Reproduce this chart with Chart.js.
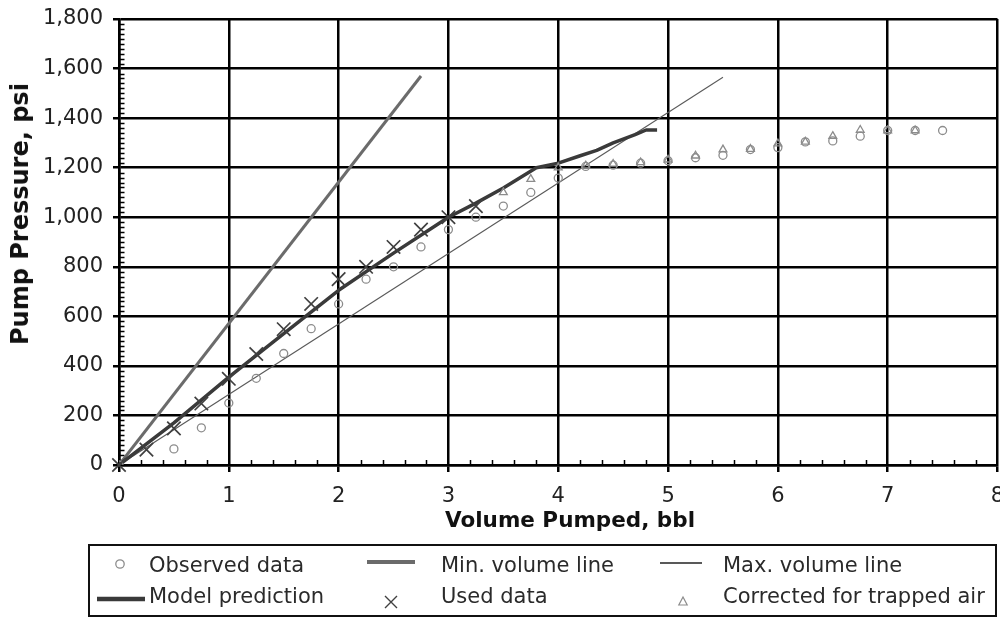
<!DOCTYPE html>
<html>
<head>
<meta charset="utf-8">
<script src="https://cdn.jsdelivr.net/npm/chart.js@4/dist/chart.umd.min.js"></script>
<style>
  html, body { margin: 0; padding: 0; background: #fff; }
  #wrap { position: relative; width: 1000px; height: 618px; overflow: hidden; font-family: "DejaVu Sans", sans-serif; }
  #c { position: absolute; left: 0; top: 0; display: block; }
  .ttl { position: absolute; font-weight: bold; color: #111; white-space: nowrap; line-height: 1; }
  #ytitle { left: 20px; top: 214px; font-size: 24px; transform: translate(-50%, -50%) rotate(-90deg); }
  #xtitle { left: 570px; top: 520px; font-size: 21.5px; transform: translate(-50%, -50%); }
  #legend { position: absolute; left: 88px; top: 544px; width: 909px; height: 73px; box-sizing: border-box; border: 2px solid #111; }
  .lt { position: absolute; font-size: 21px; line-height: 21px; color: #2a2a2a; white-space: nowrap; }
  #lsym { position: absolute; left: 0; top: 0; }
</style>
</head>
<body>
<div id="wrap">
  <canvas id="c" width="1000" height="618"></canvas>
  <div id="ytitle" class="ttl">Pump Pressure, psi</div>
  <div id="xtitle" class="ttl">Volume Pumped, bbl</div>
  <div id="legend"></div>
  <svg id="lsym" width="1000" height="618"></svg>
</div>
<script>
// ---------- data ----------
const xTickValues = [0, 1, 2, 3, 4, 5, 6, 7, 8];
const yTickValues = [0, 200, 400, 600, 800, 1000, 1200, 1400, 1600, 1800];

const observedX = [0, 0.5, 0.75, 1, 1.25, 1.5, 1.75, 2, 2.25, 2.5, 2.75, 3, 3.25, 3.5, 3.75, 4, 4.25, 4.5, 4.75, 5, 5.25, 5.5, 5.75, 6, 6.25, 6.5, 6.75, 7, 7.25, 7.5];
const observedY = [0, 65, 150, 250, 350, 450, 550, 650, 750, 800, 880, 950, 1000, 1045, 1100, 1158, 1205, 1210, 1218, 1228, 1240, 1250, 1273, 1281, 1304, 1308, 1327, 1350, 1350, 1350];

const usedX = [0, 0.25, 0.5, 0.75, 1, 1.25, 1.5, 1.75, 2, 2.25, 2.5, 2.75, 3, 3.25];
const usedY = [0, 62, 148, 248, 348, 448, 548, 650, 750, 800, 880, 950, 1000, 1045];

const correctedX = [3.5, 3.75, 4, 4.25, 4.5, 4.75, 5, 5.25, 5.5, 5.75, 6, 6.25, 6.5, 6.75, 7, 7.25];
const correctedY = [1100, 1154, 1200, 1208, 1215, 1221, 1232, 1248, 1273, 1275, 1297, 1304, 1327, 1352, 1350, 1350];

const modelX = [0, 0.5, 1, 1.5, 2, 2.5, 3, 3.25, 3.5, 3.8, 4, 4.2, 4.35, 4.5, 4.7, 4.8, 4.9];
const modelY = [0, 170, 355, 530, 705, 855, 1000, 1057, 1118, 1200, 1218, 1248, 1270, 1300, 1333, 1352, 1352];

const minVolX = [0, 2.75];
const minVolY = [0, 1570];
const maxVolX = [0, 5.5];
const maxVolY = [0, 1565];

const legendLabels = ["Observed data", "Min. volume line", "Max. volume line", "Model prediction", "Used data", "Corrected for trapped air"];

// ---------- helpers ----------
const pts = (xs, ys) => xs.map((x, i) => ({ x: x, y: ys[i] }));
const tickFont = { family: "DejaVu Sans", size: 21 };
const zeroPad = () => ({ left: 0, top: 0, right: 0, bottom: 0 });

const minorTicks = {
  id: 'minorTicks',
  beforeDatasetsDraw(chart) {
    const { ctx, chartArea, scales } = chart;
    const xs = scales.x, ys = scales.y;
    ctx.save();
    ctx.strokeStyle = '#000';
    ctx.lineWidth = 1.5;
    ctx.beginPath();
    for (let i = 0; i <= 90; i++) {
      if (i % 10 === 0) continue;
      const py = Math.round(ys.getPixelForValue(i * 20)) + 0.5;
      ctx.moveTo(chartArea.left, py);
      ctx.lineTo(chartArea.left + 5.5, py);
    }
    for (let i = 0; i <= 40; i++) {
      if (i % 5 === 0) continue;
      const px = Math.round(xs.getPixelForValue(i / 5)) + 0.5;
      ctx.moveTo(px, chartArea.bottom);
      ctx.lineTo(px, chartArea.bottom - 5);
    }
    ctx.stroke();
    ctx.restore();
  }
};

new Chart(document.getElementById('c'), {
  type: 'scatter',
  data: {
    datasets: [
      {
        label: legendLabels[4], data: pts(usedX, usedY),
        pointStyle: 'crossRot', pointRadius: 9.5, borderColor: '#404040', borderWidth: 1.7,
        backgroundColor: 'transparent', showLine: false, clip: false
      },
      {
        label: legendLabels[0], data: pts(observedX, observedY),
        pointStyle: 'circle', pointRadius: 4, borderColor: '#8c8c8c', borderWidth: 1.3,
        backgroundColor: 'rgba(255,255,255,0)', showLine: false
      },
      {
        label: legendLabels[5], data: pts(correctedX, correctedY),
        pointStyle: 'triangle', pointRadius: 4.5, borderColor: '#8c8c8c', borderWidth: 1.3,
        backgroundColor: 'rgba(255,255,255,0)', showLine: false
      },
      {
        label: legendLabels[3], data: pts(modelX, modelY),
        showLine: true, pointRadius: 0, borderColor: '#3a3a3a', borderWidth: 3.5,
        borderJoinStyle: 'round', tension: 0
      },
      {
        label: legendLabels[1], data: pts(minVolX, minVolY),
        showLine: true, pointRadius: 0, borderColor: '#6b6b6b', borderWidth: 3
      },
      {
        label: legendLabels[2], data: pts(maxVolX, maxVolY),
        showLine: true, pointRadius: 0, borderColor: '#5a5a5a', borderWidth: 1.1
      }
    ]
  },
  options: {
    responsive: false,
    animation: false,
    events: [],
    layout: { autoPadding: false, padding: { left: 0, right: 2.5, top: 19, bottom: 85 } },
    plugins: { legend: { display: false }, tooltip: { enabled: false } },
    scales: {
      x: {
        type: 'linear', min: 0, max: 8,
        afterBuildTicks: s => { s.ticks = xTickValues.map(v => ({ value: v })); },
        ticks: { font: tickFont, color: '#222', padding: 12, maxRotation: 0, autoSkip: false,
                 callback: v => String(v) },
        grid: { color: '#000', lineWidth: 2.5, tickLength: 7, drawTicks: true },
        border: { color: '#000', width: 2.5 },
        afterFit: s => { s.height = 68; s.paddingLeft = 0; s.paddingRight = 0; s.getPadding = zeroPad; }
      },
      y: {
        type: 'linear', min: 0, max: 1800,
        afterBuildTicks: s => { s.ticks = yTickValues.map(v => ({ value: v })); },
        ticks: { font: tickFont, color: '#222', padding: 10, autoSkip: false,
                 callback: v => v.toLocaleString('en-US') },
        grid: { color: '#000', lineWidth: 2.5, tickLength: 6, drawTicks: true },
        border: { color: '#000', width: 2.5 },
        afterFit: s => { s.width = 119; s.paddingTop = 0; s.paddingBottom = 0; s.getPadding = zeroPad; }
      }
    }
  },
  plugins: [minorTicks]
});

// ---------- legend (HTML text + SVG symbols) ----------
const legendPos = [
  { x: 149, y: 555 }, { x: 441, y: 555 }, { x: 723, y: 555 },
  { x: 149, y: 586 }, { x: 441, y: 586 }, { x: 723, y: 586 }
];
const wrap = document.getElementById('wrap');
legendLabels.forEach((t, i) => {
  const d = document.createElement('div');
  d.className = 'lt';
  d.textContent = t;
  d.style.left = legendPos[i].x + 'px';
  d.style.top = legendPos[i].y + 'px';
  wrap.appendChild(d);
});
document.getElementById('lsym').innerHTML =
  '<circle cx="120" cy="564" r="4.2" fill="none" stroke="#8c8c8c" stroke-width="1.3"/>' +
  '<line x1="367" y1="562" x2="415" y2="562" stroke="#6b6b6b" stroke-width="4"/>' +
  '<line x1="660" y1="563" x2="702" y2="563" stroke="#222" stroke-width="1.5"/>' +
  '<line x1="97" y1="599" x2="145" y2="599" stroke="#3a3a3a" stroke-width="4.5"/>' +
  '<path d="M385,596 L397,608 M397,596 L385,608" stroke="#404040" stroke-width="1.4" fill="none"/>' +
  '<path d="M683,597 L687.2,605 L678.8,605 Z" stroke="#8c8c8c" stroke-width="1.2" fill="none"/>';
</script>
</body>
</html>
